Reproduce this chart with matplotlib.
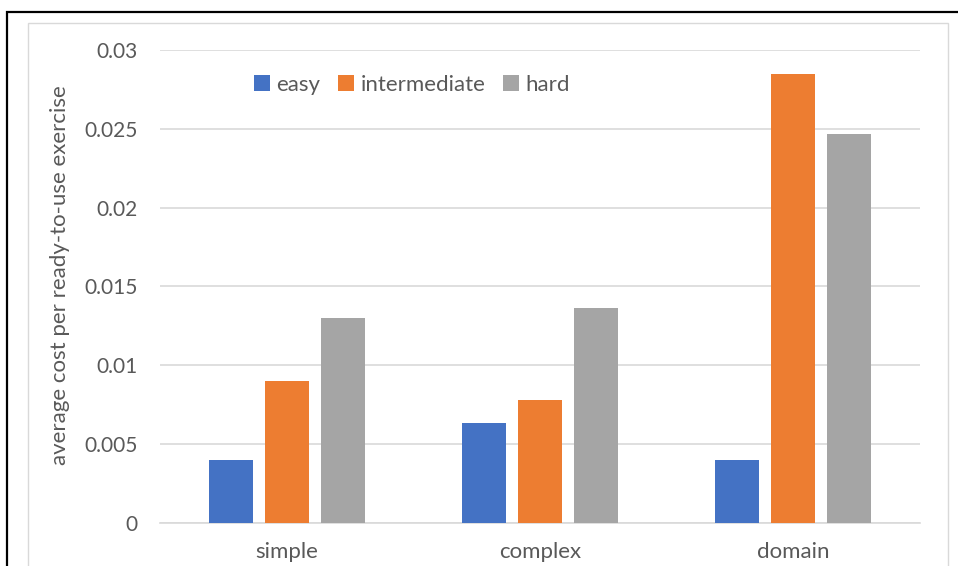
import matplotlib
matplotlib.use("Agg")
import matplotlib.pyplot as plt
from matplotlib.patches import Rectangle
import numpy as np

categories = ["simple", "complex", "domain"]
series_names = ["easy", "intermediate", "hard"]
easy = [0.0040, 0.0063, 0.0040]
intermediate = [0.0090, 0.0078, 0.0285]
hard = [0.0130, 0.0136, 0.0247]
colors = ["#4472C4", "#ED7D31", "#A5A5A5"]
yticks = [0, 0.005, 0.01, 0.015, 0.02, 0.025, 0.03]
ytick_labels = ["0", "0.005", "0.01", "0.015", "0.02", "0.025", "0.03"]

plt.rcParams["font.family"] = ["Lato", "DejaVu Sans"]
text_color = "#595959"

W, H = 958, 566
fig = plt.figure(figsize=(W / 100, H / 100), dpi=100)

# outer black frame and light chart-area frame
fig.patches.append(Rectangle((7 / W, -0.1), 1.2, 1 - 12 / H + 0.1, transform=fig.transFigure,
                             fill=False, edgecolor="black", linewidth=1.6, zorder=0))
fig.patches.append(Rectangle((28 / W, -0.1), (948 - 28) / W, 1 - 23 / H + 0.1, transform=fig.transFigure,
                             fill=False, edgecolor="#D9D9D9", linewidth=1.0, zorder=0))

left, right, top, bottom = 160, 920, 50, 522.7
ax = fig.add_axes([left / W, 1 - bottom / H, (right - left) / W, (bottom - top) / H])

x = np.arange(len(categories))
width = 0.174
step = 0.221
for i, (name, vals) in enumerate(zip(series_names, [easy, intermediate, hard])):
    ax.bar(x + (i - 1) * step, vals, width=width, color=colors[i], label=name, zorder=3)

ax.set_xlim(-0.5, len(categories) - 0.5)
ax.set_ylim(0, 0.03)
ax.set_yticks(yticks)
ax.set_yticklabels(ytick_labels)
ax.set_xticks(x)
ax.set_xticklabels(categories)
ax.tick_params(axis="both", length=0, colors=text_color)
ax.tick_params(axis="y", labelsize=15, pad=16)
ax.tick_params(axis="x", labelsize=16, pad=14)
ax.grid(axis="y", color="#D9D9D9", linewidth=1.2, zorder=0)
for s in ["top", "right", "left"]:
    ax.spines[s].set_visible(False)
ax.spines["bottom"].set_color("#D9D9D9")
ax.spines["bottom"].set_linewidth(1.2)

fig.text(60 / W, 1 - 275 / H, "average cost per ready-to-use exercise", rotation=90,
         ha="center", va="center", fontsize=16, color=text_color)

leg = ax.legend(loc="center", bbox_to_anchor=(412 / W, 1 - 85 / H), bbox_transform=fig.transFigure,
                ncol=3, frameon=False, fontsize=16, handlelength=0.7, handleheight=0.7,
                handletextpad=0.3, columnspacing=0.8, labelcolor=text_color)

fig.savefig("out.png", dpi=100, facecolor="white")
